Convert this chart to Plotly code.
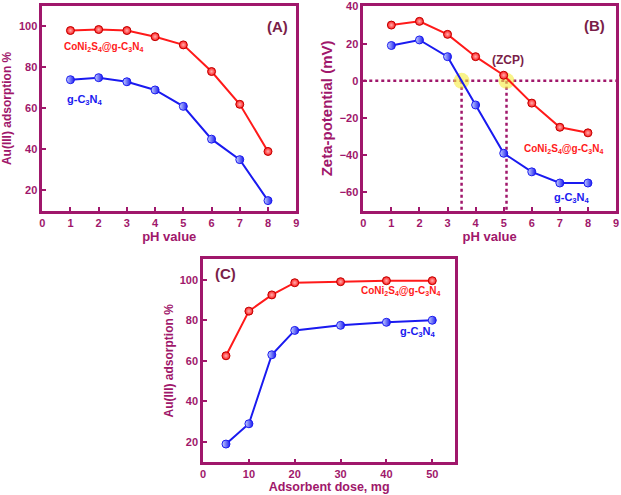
import plotly.graph_objects as go

# ---- data ----
ph = [1, 2, 3, 4, 5, 6, 7, 8]
ads_cns = [98, 98.5, 98, 95, 91, 78, 62, 39]      # CoNi2S4@g-C3N4
ads_gcn = [74, 75, 73, 69, 61, 45, 35, 15]        # g-C3N4
zeta_cns = [30, 32, 25, 13, 3, -12, -25, -28]
zeta_gcn = [19, 22, 13, -13, -39, -49, -55, -55]
zcp_x = [3.5, 5.1]
dose = [5, 10, 15, 20, 30, 40, 50]
dose_cns = [62.5, 84.5, 92.5, 98.5, 99, 99.5, 99.5]
dose_gcn = [19, 29, 63, 75, 77.5, 79, 80]

LBL_CNS = "CoNi<sub>2</sub>S<sub>4</sub>@g-C<sub>3</sub>N<sub>4</sub>"
LBL_GCN = "g-C<sub>3</sub>N<sub>4</sub>"

AX = "#A0176B"
DARK = "#7A1E48"
RED = "#FF1A1A"
BLUE = "#1A1AF0"
FONT = "Liberation Sans"

fig = go.Figure()

def red_trace(x, y, xa, ya):
    return go.Scatter(x=x, y=y, xaxis=xa, yaxis=ya, mode="lines+markers",
                      line=dict(color=RED, width=2),
                      marker=dict(symbol="circle", size=8, color=RED,
                                  gradient=dict(type="radial", color="#FFB0B0"),
                                  line=dict(color="#C00000", width=1)),
                      showlegend=False, hoverinfo="skip")

def blue_trace(x, y, xa, ya):
    return go.Scatter(x=x, y=y, xaxis=xa, yaxis=ya, mode="lines+markers",
                      line=dict(color=BLUE, width=2),
                      marker=dict(symbol="circle", size=8, color="#C8D4FF",
                                  gradient=dict(type="horizontal", color=BLUE),
                                  line=dict(color=BLUE, width=1)),
                      showlegend=False, hoverinfo="skip")

# Panel A
fig.add_trace(red_trace(ph, ads_cns, "x", "y"))
fig.add_trace(blue_trace(ph, ads_gcn, "x", "y"))

# Panel B: ZCP guide lines
fig.add_trace(go.Scatter(x=[0, 9], y=[0, 0], xaxis="x2", yaxis="y2", mode="lines",
                         line=dict(color=AX, width=2.5, dash="dot"),
                         showlegend=False, hoverinfo="skip"))
for zx in zcp_x:
    fig.add_trace(go.Scatter(x=[zx, zx], y=[0, -70], xaxis="x2", yaxis="y2", mode="lines",
                             line=dict(color=AX, width=2.5, dash="dot"),
                             showlegend=False, hoverinfo="skip"))
fig.add_trace(go.Scatter(x=zcp_x, y=[0, 0], xaxis="x2", yaxis="y2", mode="markers",
                         marker=dict(size=16, color="rgba(245,235,60,0.6)"),
                         showlegend=False, hoverinfo="skip"))
fig.add_trace(red_trace(ph, zeta_cns, "x2", "y2"))
fig.add_trace(blue_trace(ph, zeta_gcn, "x2", "y2"))

# Panel C
fig.add_trace(red_trace(dose, dose_cns, "x3", "y3"))
fig.add_trace(blue_trace(dose, dose_gcn, "x3", "y3"))

def xax(domain, rng, dtick, anchor, title, tsize=13, standoff=2):
    return dict(domain=domain, range=rng, dtick=dtick, anchor=anchor, automargin=False,
                showline=True, mirror=True, linecolor=AX, linewidth=2.5,
                ticks="inside", ticklen=4, tickcolor=AX, tickwidth=2,
                showgrid=False, zeroline=False,
                tickfont=dict(family=FONT, size=11, color=AX, weight="bold"),
                title=dict(text=title, standoff=standoff,
                           font=dict(family=FONT, size=tsize, color=AX, weight="bold")))

def yax(domain, rng, tickvals, anchor, title, tsize=13, standoff=6):
    return dict(domain=domain, range=rng, tickvals=tickvals, anchor=anchor, automargin=False,
                showline=True, mirror=True, linecolor=AX, linewidth=2.5,
                ticks="inside", ticklen=4, tickcolor=AX, tickwidth=2,
                showgrid=False, zeroline=False,
                tickfont=dict(family=FONT, size=11, color=AX, weight="bold"),
                title=dict(text=title, standoff=standoff,
                           font=dict(family=FONT, size=tsize, color=AX, weight="bold")))

fig.update_layout(
    width=621, height=495,
    margin=dict(l=0, r=0, t=0, b=0),
    paper_bgcolor="white", plot_bgcolor="white",
    xaxis=xax([0.068, 0.477], [0, 9], 1, "y", "pH value"),
    yaxis=yax([0.574, 0.988], [10, 110], [20, 40, 60, 80, 100], "x", "Au(III) adsorption %", 12, 8),
    xaxis2=xax([0.585, 0.992], [0, 9], 1, "y2", "pH value"),
    yaxis2=yax([0.574, 0.988], [-70, 40.3], [-60, -40, -20, 0, 20, 40], "x2", "Zeta-potential (mV)", 15, 4),
    xaxis3=xax([0.327, 0.733], [0, 55], 10, "y3", "Adsorbent dose, mg", 12.5, 3),
    yaxis3=yax([0.066, 0.476], [10, 110], [20, 40, 60, 80, 100], "x3", "Au(III) adsorption %", 12, 4),
)

def ann(x, y, text, xr, yr, color, size=10, xanchor="left"):
    fig.add_annotation(x=x, y=y, xref=xr, yref=yr, text=text, showarrow=False,
                       xanchor=xanchor, yanchor="middle",
                       font=dict(family=FONT, size=size, color=color, weight="bold"))

ann(0.7, 90, LBL_CNS, "x", "y", RED, 10)
ann(0.8, 64, LBL_GCN, "x", "y", BLUE, 11)
ann(8.33, 100, "(A)", "x", "y", DARK, 15, "center")

ann(8.25, 29.6, "(B)", "x2", "y2", DARK, 15, "center")
ann(5.15, 11.0, "(ZCP)", "x2", "y2", DARK, 12, "center")
ann(5.66, -36.5, LBL_CNS, "x2", "y2", RED, 10)
ann(6.72, -63, LBL_GCN, "x2", "y2", BLUE, 11)

ann(4.9, 103, "(C)", "x3", "y3", DARK, 15, "center")
ann(34.1, 94.4, LBL_CNS, "x3", "y3", RED, 10)
ann(42.6, 74.1, LBL_GCN, "x3", "y3", BLUE, 11)

fig.write_html("out.html", config={"displayModeBar": False},
               post_script="document.body.style.margin='0';document.body.style.overflow='hidden';")
